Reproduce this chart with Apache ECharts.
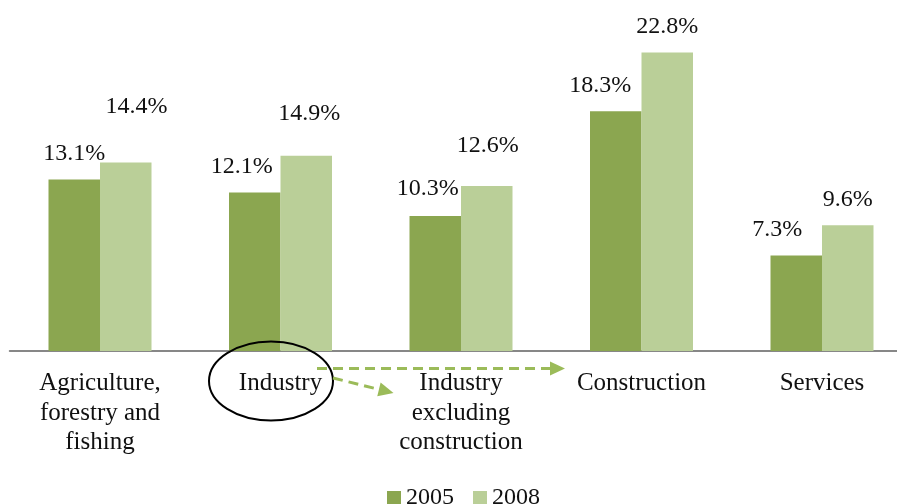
<!DOCTYPE html>
<html>
<head>
<meta charset="utf-8">
<script src="https://cdn.jsdelivr.net/npm/echarts@6/dist/echarts.min.js"></script>
<style>
  html, body { margin: 0; padding: 0; background: #ffffff; overflow: hidden; }
  /* the plot runs slightly past the right edge of the view, so the canvas is wider */
  #chart { width: 913px; height: 504px; }
</style>
</head>
<body>
<div id="chart"></div>
<script>
// Share of employment by sector, 2005 vs 2008 (percent)
const categories = [
  'Agriculture,\nforestry and\nfishing',
  'Industry',
  'Industry\nexcluding\nconstruction',
  'Construction',
  'Services'
];
const seriesNames = ['2005', '2008'];
const values2005 = [13.1, 12.1, 10.3, 18.3, 7.3];
const values2008 = [14.4, 14.9, 12.6, 22.8, 9.6];

// Hand-placed label nudges [dx, dy] in pixels
const labelShift2005 = [[0, 0], [-13, 0], [-7.5, -1], [-15.5, 0], [-19, 0]];
const labelShift2008 = [[10.7, -30], [3, -15.7], [1, -14.7], [0, 0], [0, 0]];

const FONT = '"Liberation Serif", "DejaVu Serif", serif';
const DARK = '#8ba650';
const LIGHT = '#bacf98';
const ARROW = '#9bbb59';

function withLabels(values, shifts) {
  return values.map((v, i) => ({
    value: v,
    label: { offset: shifts[i] }
  }));
}

const labelStyle = {
  show: true,
  position: 'top',
  distance: 14,
  fontFamily: FONT,
  fontSize: 24,
  lineHeight: 24,
  color: '#111',
  formatter: p => p.value.toFixed(1) + '%'
};

const chart = echarts.init(document.getElementById('chart'), null, { renderer: 'canvas' });

chart.setOption({
  backgroundColor: '#ffffff',
  animation: false,
  grid: { left: 9.75, width: 902.5, top: 0, height: 351, containLabel: false },
  xAxis: {
    type: 'category',
    data: categories,
    axisLine: { show: true, lineStyle: { color: '#878787', width: 2 } },
    axisTick: { show: false },
    splitLine: { show: false },
    axisLabel: {
      interval: 0,
      margin: 18,
      fontFamily: FONT,
      fontSize: 25,
      lineHeight: 29.5,
      color: '#111',
      align: 'center'
    }
  },
  yAxis: {
    type: 'value',
    min: 0,
    max: 26.8,
    show: false,
    splitLine: { show: false }
  },
  legend: {
    data: seriesNames,
    left: 387,
    top: 486,
    padding: 0,
    icon: 'rect',
    itemWidth: 14,
    itemHeight: 14,
    itemGap: 19,
    textStyle: { fontFamily: FONT, fontSize: 24, lineHeight: 24, color: '#111' }
  },
  series: [
    {
      name: seriesNames[0],
      type: 'bar',
      data: withLabels(values2005, labelShift2005),
      barWidth: 51.5,
      barGap: '0%',
      itemStyle: { color: DARK },
      label: labelStyle
    },
    {
      name: seriesNames[1],
      type: 'bar',
      data: withLabels(values2008, labelShift2008),
      barWidth: 51.5,
      barGap: '0%',
      itemStyle: { color: LIGHT },
      label: labelStyle
    }
  ]
});

// Callout: circle around "Industry" and dashed arrows to its two parts
const industryX = chart.convertToPixel({ xAxisIndex: 0 }, categories[1]);
const baseY = chart.convertToPixel({ yAxisIndex: 0 }, 0);

function dashedArrow(x1, y1, x2, y2) {
  const dx = x2 - x1, dy = y2 - y1;
  const len = Math.hypot(dx, dy);
  const ux = dx / len, uy = dy / len;
  const headLen = 15, headHalf = 7;
  const bx = x2 - ux * headLen, by = y2 - uy * headLen;
  const px = -uy * headHalf, py = ux * headHalf;
  return [
    {
      type: 'line',
      shape: { x1: x1, y1: y1, x2: bx, y2: by },
      style: { stroke: ARROW, lineWidth: 3, lineDash: [10, 6] },
      z: 10
    },
    {
      type: 'polygon',
      shape: { points: [[x2, y2], [bx + px, by + py], [bx - px, by - py]] },
      style: { fill: ARROW },
      z: 10
    }
  ];
}

chart.setOption({
  graphic: [
    {
      type: 'ellipse',
      shape: { cx: industryX - 9.5, cy: baseY + 30, rx: 62, ry: 39.5 },
      style: { fill: 'none', stroke: '#000', lineWidth: 2 },
      z: 10
    },
    ...dashedArrow(industryX + 36.5, baseY + 17.5, industryX + 284.5, baseY + 17.5),
    ...dashedArrow(industryX + 52.5, baseY + 27, industryX + 113, baseY + 42)
  ]
});
</script>
</body>
</html>
